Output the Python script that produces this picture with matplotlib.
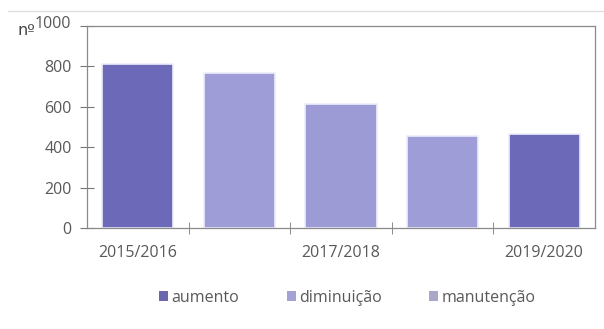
import matplotlib
matplotlib.use('Agg')
import matplotlib.pyplot as plt
from matplotlib.lines import Line2D
from matplotlib.patches import Patch

years = ['2015/2016', '2016/2017', '2017/2018', '2018/2019', '2019/2020']
values = [810, 765, 612, 455, 466]
series = ['aumento', 'diminuição', 'manutenção', 'diminuição', 'aumento']
shown_labels = ['2015/2016', '', '2017/2018', '', '2019/2020']
legend_names = ['aumento', 'diminuição', 'manutenção']

colors = {'aumento': '#6c69b9', 'diminuição': '#9e9dd8', 'manutenção': '#9c9bd6'}
legend_colors = {'aumento': '#6a67ae', 'diminuição': '#a3a2d2', 'manutenção': '#a9a8c6'}
txt = '#595959'
fs = 11.5

plt.rcParams['font.family'] = ['Open Sans', 'DejaVu Sans']

fig = plt.figure(figsize=(6.04, 3.29), dpi=100)
ax = fig.add_axes([0.144, 0.307, 0.841, 0.614])

x = list(range(len(years)))
ax.bar(x, values, width=0.7, color=[colors[s] for s in series],
       edgecolor='#eeeefa', linewidth=1.2, zorder=2)

ax.set_xlim(-0.5, len(years) - 0.5)
ax.set_ylim(0, 1000)
ax.set_yticks(range(0, 1001, 200))
ax.set_yticklabels(['0', '200', '400', '600', '800', ''], color=txt, fontsize=fs)

# category labels under bars, tick marks on the boundaries
ax.set_xticks(x)
ax.set_xticklabels(shown_labels, color=txt, fontsize=fs)
ax.tick_params(axis='x', length=0, pad=12)
ax.set_xticks([i - 0.5 for i in range(1, len(years))], minor=True)
ax.tick_params(axis='x', which='minor', direction='inout', length=8, color='#777777')
ax.tick_params(axis='y', direction='inout', length=10, color='#777777', pad=6)

for sp in ax.spines.values():
    sp.set_color('#8a8a8a')
    sp.set_linewidth(0.9)

fig.text(0.118, 0.927, '1000', color=txt, fontsize=fs, ha='right', va='center')
fig.text(0.059, 0.908, 'nº', color='#444444', fontsize=11.5, ha='right', va='center',
         family='DejaVu Sans')

# thin rule at the top of the figure
fig.add_artist(Line2D([0.013, 1.0], [0.967, 0.967], color='#dddddd', linewidth=0.9))

handles = [Patch(facecolor=legend_colors[n], edgecolor='none') for n in legend_names]
fig.legend(handles, legend_names, loc='center', bbox_to_anchor=(0.575, 0.095),
           ncol=3, frameon=False, handlelength=0.55, handleheight=0.55,
           handletextpad=0.2, columnspacing=3.0, labelcolor=txt,
           prop={'size': fs})

fig.savefig('out.png', dpi=100)
